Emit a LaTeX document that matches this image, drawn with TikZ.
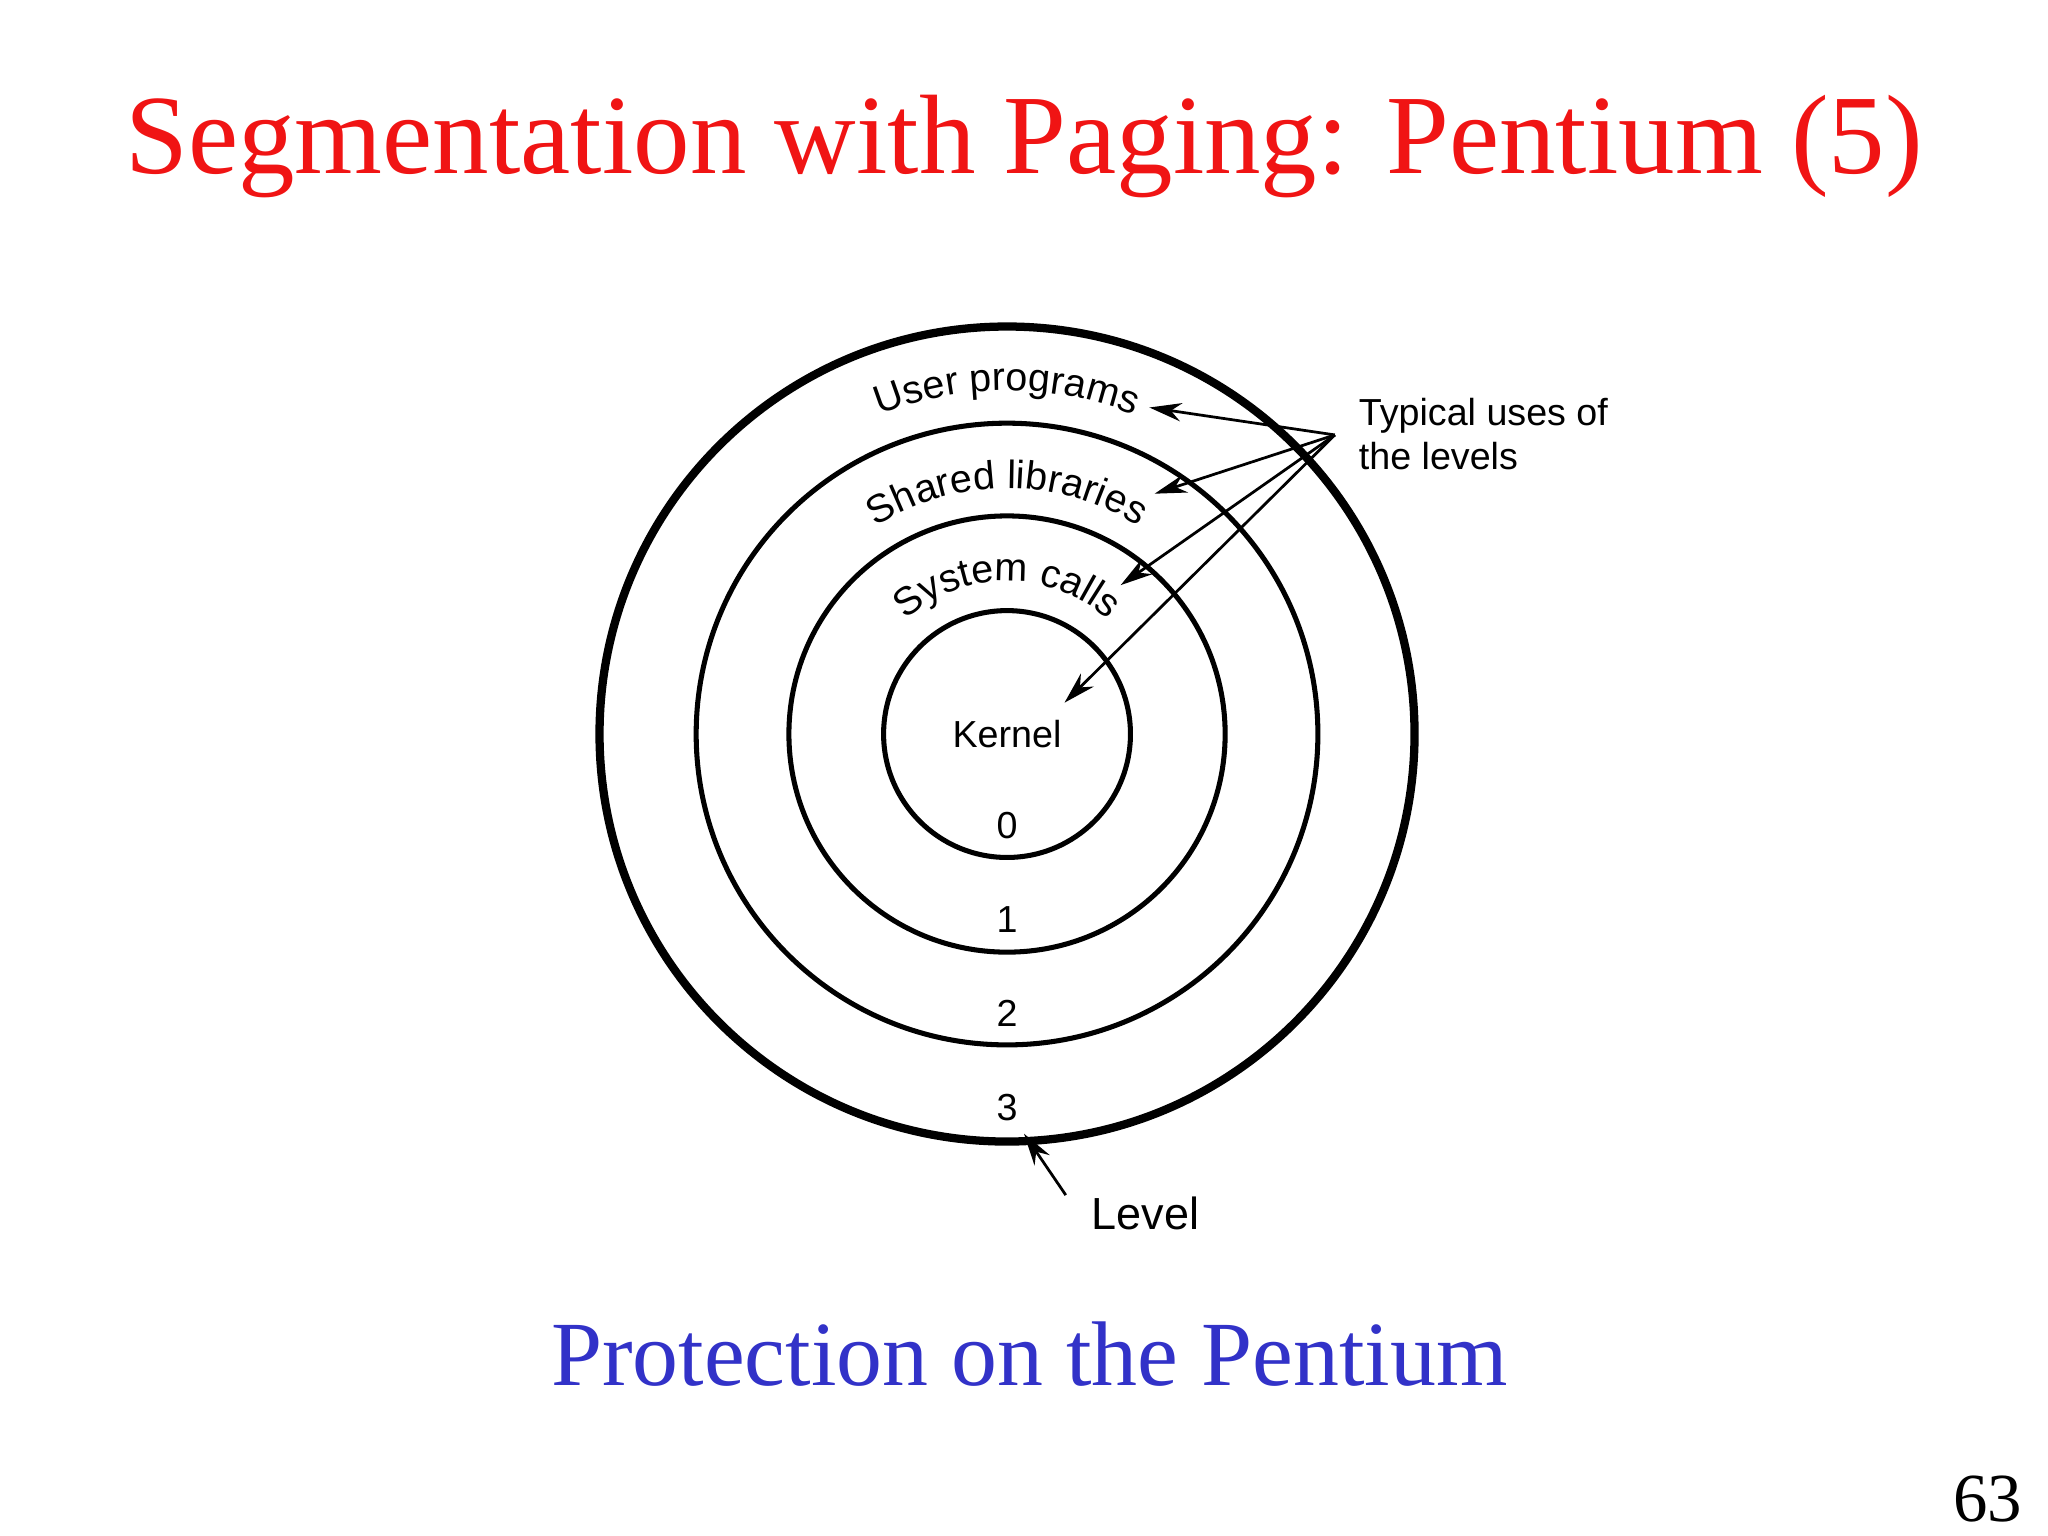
\documentclass[tikz,border=0pt]{standalone}
\usepackage{fontspec}
\setmainfont{Liberation Serif}
\setsansfont{Liberation Sans}
\usetikzlibrary{decorations.text,arrows.meta}
\definecolor{titlered}{RGB}{240,20,20}
\definecolor{subblue}{RGB}{50,50,200}
\tikzset{ring/.style={draw=black,line width=1.1pt},
lab/.style={font=\sffamily\fontsize{8.2}{9.6}\selectfont},
arr/.style={-{Stealth[length=7pt,width=4pt]},line width=0.6pt}}
\begin{document}
\begin{tikzpicture}
\useasboundingbox (0,0) rectangle (15.68,-11.76);
\coordinate (c) at (7.71,-5.62);
\node[font=\fontsize{24.6}{28}\selectfont,text=titlered] (title) at (7.84,-1.12) {Segmentation with Paging: Pentium (5)};
\node[font=\fontsize{20}{24}\selectfont,text=subblue] (sub) at (7.88,-10.37) {Protection on the Pentium};
\node[font=\fontsize{15}{18}\selectfont] (pg) at (15.22,-11.48) {63};
\draw[ring,line width=1.8pt] (c) circle (3.12);
\draw[ring] (c) circle (2.38);
\draw[ring] (c) circle (1.67);
\draw[ring] (c) circle (0.945);
\foreach \r/\t in {2.63/User programs,1.88/Shared libraries,1.17/System calls}{
\path[decorate,decoration={text along path,text align=center,text={|\sffamily\fontsize{8.6}{10}\selectfont|\t}}]
 ([shift={(160:\r)}]c) arc[start angle=160,end angle=20,radius=\r];
}
\node[lab] (k) at (7.71,-5.62) {Kernel};
\node[lab] (n0) at (7.71,-6.32) {0};
\node[lab] (n1) at (7.71,-7.04) {1};
\node[lab] (n2) at (7.71,-7.76) {2};
\node[lab] (n3) at (7.71,-8.48) {3};
\node[lab,align=left,anchor=west] (typ) at (10.28,-3.32) {Typical uses of\\the levels};
\coordinate (src) at (10.22,-3.33);
\coordinate (u) at (8.80,-3.12);
\coordinate (s) at (8.84,-3.78);
\coordinate (y) at (8.58,-4.48);
\coordinate (kk) at (8.15,-5.38);
\foreach \t in {u,s,y,kk}{\draw[arr] (src) -- (\t);}
\node[font=\sffamily\fontsize{9.8}{12}\selectfont] (lev) at (8.77,-9.29) {Level};
\coordinate (lv) at (8.16,-9.15);
\coordinate (lp) at (7.84,-8.68);
\draw[arr] (lv) -- (lp);
\end{tikzpicture}
\end{document}
